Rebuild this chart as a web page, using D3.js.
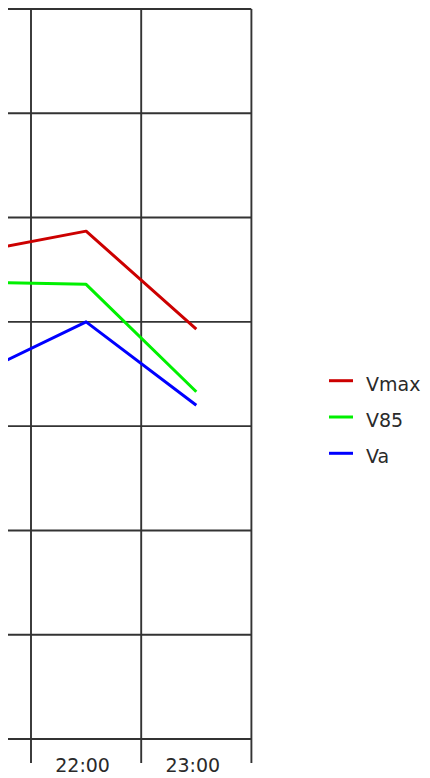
<!DOCTYPE html>
<html>
<head>
<meta charset="utf-8">
<script src="https://cdn.jsdelivr.net/npm/d3@7/dist/d3.min.js"></script>
<style>
  html, body { margin: 0; padding: 0; background: #fff; }
  svg { display: block; }
  text { font-family: "DejaVu Sans", Verdana, sans-serif; }
</style>
</head>
<body>
<svg id="chart" width="430" height="778"></svg>
<script>
// Hourly speed readings (km/h)
const hours = ["21:00", "22:00", "23:00"];
const vmax = [46.7, 48.7, 39.3];
const v85  = [43.8, 43.6, 33.3];
const va   = [34.9, 40.0, 32.0];

const seriesNames  = ["Vmax", "V85", "Va"];
const seriesColors = ["#cc0000", "#00f000", "#0000ff"];
const seriesValues = [vmax, v85, va];

const yTicks = [0, 10, 20, 30, 40, 50, 60, 70];

const svg = d3.select("#chart");

const plot = { left: 8, right: 251.3, top: 9, bottom: 739 };
const bandW = 110.2;

const x = d3.scaleBand()
  .domain(hours)
  .range([31 - bandW, 31 - bandW + bandW * hours.length])
  .padding(0);

const y = d3.scaleLinear()
  .domain([0, 70])
  .range([plot.bottom, plot.top]);

svg.append("defs").append("clipPath").attr("id", "clip")
  .append("rect")
  .attr("x", plot.left).attr("y", 0)
  .attr("width", 430 - plot.left).attr("height", 778);

const g = svg.append("g").attr("clip-path", "url(#clip)");

// horizontal grid
g.append("g")
  .selectAll("line")
  .data(yTicks)
  .join("line")
  .attr("x1", plot.left)
  .attr("x2", plot.right)
  .attr("y1", d => y(d))
  .attr("y2", d => y(d))
  .attr("stroke", "#333")
  .attr("stroke-width", 1.9);

// vertical grid at band boundaries, running past the bottom as ticks
const bounds = hours.map(h => x(h)).concat([x(hours[hours.length - 1]) + x.bandwidth()]);
g.append("g")
  .selectAll("line")
  .data(bounds)
  .join("line")
  .attr("x1", d => d)
  .attr("x2", d => d)
  .attr("y1", plot.top)
  .attr("y2", 763)
  .attr("stroke", "#333")
  .attr("stroke-width", 1.9);

// hour labels for the bands lying inside the plot
svg.append("g")
  .selectAll("text")
  .data(hours.filter(h => x(h) >= plot.left))
  .join("text")
  .attr("x", d => x(d) + x.bandwidth() / 2 - 3.5)
  .attr("y", 772)
  .attr("text-anchor", "middle")
  .attr("font-size", 19)
  .attr("fill", "#2a2a2a")
  .text(d => d);

// series lines
const line = d3.line()
  .x((d, i) => x(hours[i]) + x.bandwidth() / 2)
  .y(d => y(d));

g.append("g")
  .selectAll("path")
  .data(seriesValues)
  .join("path")
  .attr("d", d => line(d))
  .attr("fill", "none")
  .attr("stroke", (d, i) => seriesColors[i])
  .attr("stroke-width", 3)
  .attr("stroke-linejoin", "round");

// legend
const legend = svg.append("g")
  .selectAll("g")
  .data(seriesNames)
  .join("g")
  .attr("transform", (d, i) => `translate(329, ${380.7 + i * 36.3})`);

legend.append("line")
  .attr("x1", 0).attr("x2", 24)
  .attr("y1", 0).attr("y2", 0)
  .attr("stroke", (d, i) => seriesColors[i])
  .attr("stroke-width", 3);

legend.append("text")
  .attr("x", 37)
  .attr("y", 10)
  .attr("font-size", 19)
  .attr("fill", "#2a2a2a")
  .text(d => d);
</script>
</body>
</html>
